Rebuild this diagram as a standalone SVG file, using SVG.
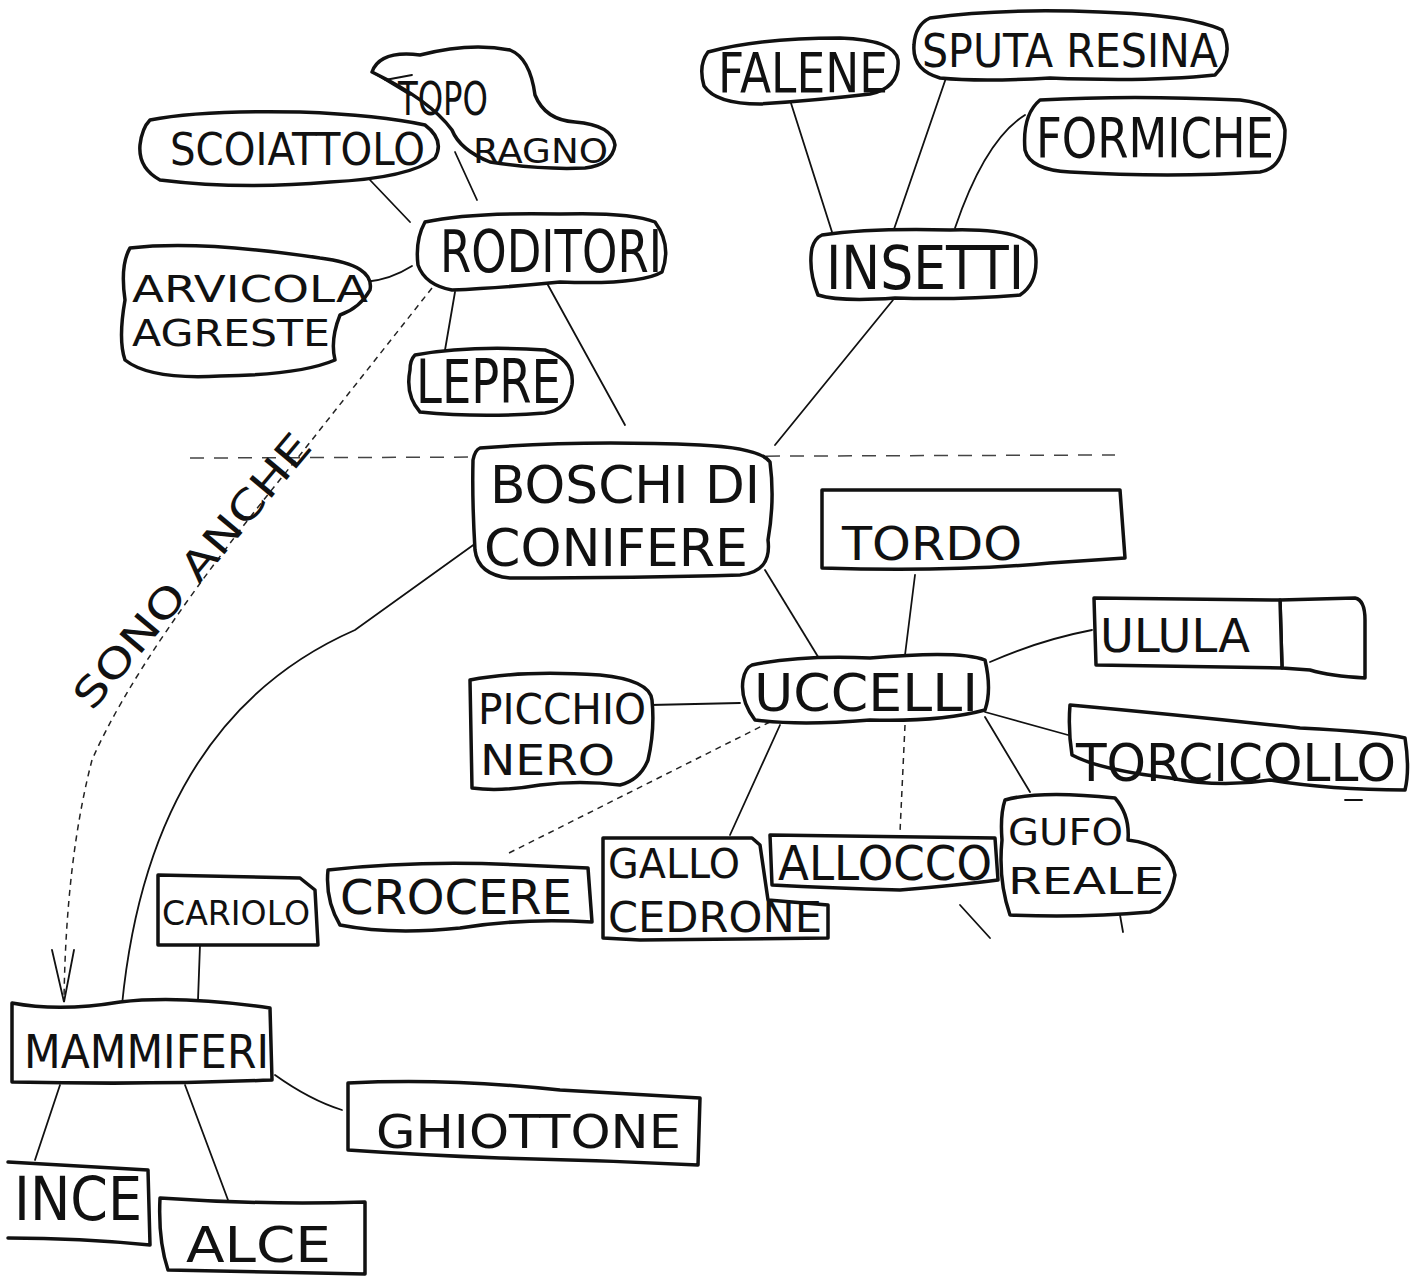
<svg xmlns="http://www.w3.org/2000/svg" width="1414" height="1284" viewBox="0 0 1414 1284">
<defs>
<style>
.n{fill:#fff;stroke:#111;stroke-width:3.5;stroke-linejoin:round;stroke-linecap:round}
.t{font-family:"DejaVu Sans","Liberation Sans",sans-serif;font-weight:normal;fill:#111}
.c{fill:none;stroke:#111;stroke-width:1.8;stroke-linecap:round}
.d{fill:none;stroke:#222;stroke-width:1.5;stroke-dasharray:6 5}
.s{fill:none;stroke:#444;stroke-width:1.5;stroke-dasharray:14 10}
</style>
</defs>
<rect width="1414" height="1284" fill="#fff"/>
<path class="s" d="M190 458 L1115 455"/>
<g id="connectors">
<path class="c" d="M370 180 L410 222"/>
<path class="c" d="M455 152 L477 200"/>
<path class="c" d="M365 282 Q390 280 412 266"/>
<path class="c" d="M455 292 L445 350"/>
<path class="c" d="M543 276 L625 425"/>
<path class="d" d="M432 288 L300 455 Q140 650 92 760 Q66 860 64 1000"/>
<path class="c" d="M52 950 L64 1002 L74 950"/>
<path class="c" d="M790 100 L832 232"/>
<path class="c" d="M946 78 L893 232"/>
<path class="c" d="M1025 115 Q985 140 955 228"/>
<path class="c" d="M893 300 L775 445"/>
<path class="c" d="M490 533 L355 630 Q150 720 122 1005"/>
<path class="c" d="M765 570 L820 660"/>
<path class="c" d="M915 575 L905 655"/>
<path class="c" d="M990 662 Q1040 640 1092 630"/>
<path class="c" d="M740 703 L650 705"/>
<path class="c" d="M985 712 L1068 735"/>
<path class="c" d="M985 717 L1030 792"/>
<path class="d" d="M905 725 L900 832"/>
<path class="c" d="M780 725 L730 835"/>
<path class="d" d="M770 722 L505 855"/>
<path class="c" d="M960 905 L990 938"/>
<path class="c" d="M1120 915 L1123 932"/>
<path class="c" d="M200 945 L198 1000"/>
<path class="c" d="M275 1075 Q310 1100 342 1110"/>
<path class="c" d="M60 1085 L35 1160"/>
<path class="c" d="M185 1085 L228 1200"/>
<path class="c" d="M1345 800 L1362 800"/>
</g>
<text class="t" font-size="40" transform="translate(92,712) rotate(-50)" textLength="345" lengthAdjust="spacingAndGlyphs">SONO ANCHE</text>
<g id="n-topo-ragno">
<path class="n" d="M372 72 Q380 50 420 55 Q470 42 510 50 Q530 58 535 95 Q545 120 575 122 Q612 125 615 145 Q612 165 585 168 Q540 170 490 162 Q460 150 452 130 Q430 100 372 72 Z"/>
<path class="c" d="M372 72 L410 95 M385 80 L412 75"/>
<text class="t" x="398" y="115" font-size="46" textLength="90" lengthAdjust="spacingAndGlyphs">TOPO</text>
<text class="t" x="473" y="163" font-size="34" textLength="135" lengthAdjust="spacingAndGlyphs">RAGNO</text>
</g>
<g id="n-scoiattolo">
<path class="n" d="M150 120 Q200 110 300 112 Q380 115 425 125 Q445 140 435 158 Q410 178 330 182 Q240 190 160 180 Q138 168 140 145 Q142 128 150 120 Z"/>
<text class="t" x="170" y="165" font-size="44" textLength="255" lengthAdjust="spacingAndGlyphs">SCOIATTOLO</text>
</g>
<g id="n-roditori">
<path class="n" d="M425 222 Q470 212 560 214 Q630 212 655 222 Q672 245 662 272 Q640 285 560 282 Q500 288 452 290 Q425 285 418 265 Q415 240 425 222 Z"/>
<text class="t" x="440" y="272" font-size="58" textLength="222" lengthAdjust="spacingAndGlyphs">RODITORI</text>
</g>
<g id="n-arvicola">
<path class="n" d="M130 248 Q200 240 320 258 Q375 265 370 290 Q360 308 340 315 Q330 340 335 360 Q300 375 220 376 Q150 380 125 360 Q118 340 125 300 Q120 265 130 248 Z"/>
<text class="t" x="132" y="302" font-size="38" textLength="236" lengthAdjust="spacingAndGlyphs">ARVICOLA</text>
<text class="t" x="132" y="346" font-size="38" textLength="198" lengthAdjust="spacingAndGlyphs">AGRESTE</text>
</g>
<g id="n-lepre">
<path class="n" d="M415 355 Q470 345 545 350 Q575 360 572 385 Q568 410 545 413 Q480 418 420 412 Q405 395 410 370 Q410 360 415 355 Z"/>
<text class="t" x="416" y="403" font-size="60" textLength="145" lengthAdjust="spacingAndGlyphs">LEPRE</text>
</g>
<g id="n-falene">
<path class="n" d="M708 52 Q760 38 840 38 Q895 40 898 60 Q900 88 870 94 Q820 100 760 104 Q716 104 704 86 Q698 65 708 52 Z"/>
<text class="t" x="718" y="92" font-size="56" textLength="170" lengthAdjust="spacingAndGlyphs">FALENE</text>
</g>
<g id="n-sputa">
<path class="n" d="M930 18 Q1000 8 1100 12 Q1190 15 1222 30 Q1235 55 1215 75 Q1150 82 1050 78 Q980 82 940 78 Q912 70 914 45 Q915 25 930 18 Z"/>
<text class="t" x="922" y="67" font-size="46" textLength="296" lengthAdjust="spacingAndGlyphs">SPUTA RESINA</text>
</g>
<g id="n-formiche">
<path class="n" d="M1040 100 Q1130 95 1240 100 Q1282 105 1285 130 Q1285 168 1260 172 Q1170 178 1070 172 Q1030 170 1025 150 Q1022 115 1040 100 Z"/>
<text class="t" x="1036" y="157" font-size="56" textLength="238" lengthAdjust="spacingAndGlyphs">FORMICHE</text>
</g>
<g id="n-insetti">
<path class="n" d="M822 235 Q870 228 950 230 Q1025 228 1035 250 Q1040 282 1020 295 Q960 300 895 298 Q840 302 818 295 Q808 270 812 248 Q815 238 822 235 Z"/>
<text class="t" x="826" y="289" font-size="60" textLength="198" lengthAdjust="spacingAndGlyphs">INSETTI</text>
</g>
<g id="n-boschi">
<path class="n" d="M480 448 Q580 440 700 445 Q760 448 770 462 Q775 500 768 540 Q772 572 740 575 Q640 578 510 578 Q478 575 475 550 Q472 500 473 460 Q475 450 480 448 Z"/>
<text class="t" x="490" y="503" font-size="52" textLength="270" lengthAdjust="spacingAndGlyphs">BOSCHI DI</text>
<text class="t" x="484" y="566" font-size="52" textLength="264" lengthAdjust="spacingAndGlyphs">CONIFERE</text>
</g>
<g id="n-tordo">
<path class="n" d="M822 490 L1120 490 L1125 558 L1050 563 Q950 572 822 568 Z"/>
<text class="t" x="842" y="560" font-size="46" textLength="180" lengthAdjust="spacingAndGlyphs">TORDO</text>
</g>
<g id="n-ulula">
<path class="n" d="M1280 600 L1355 598 Q1365 600 1365 620 L1365 678 Q1330 676 1310 670 L1282 668 Z"/>
<path class="n" d="M1094 598 L1280 600 L1282 668 L1096 665 Z"/>
<text class="t" x="1100" y="652" font-size="46" textLength="150" lengthAdjust="spacingAndGlyphs">ULULA</text>
</g>
<g id="n-uccelli">
<path class="n" d="M752 665 Q800 655 870 658 Q960 650 985 660 Q992 690 985 710 Q940 722 870 720 Q800 726 755 720 Q740 700 743 680 Q745 668 752 665 Z"/>
<text class="t" x="754" y="711" font-size="52" textLength="224" lengthAdjust="spacingAndGlyphs">UCCELLI</text>
</g>
<g id="n-picchio">
<path class="n" d="M470 680 Q520 670 600 675 Q650 680 652 700 Q655 730 648 760 Q640 780 620 785 Q580 780 540 785 Q500 792 472 788 Z"/>
<text class="t" x="478" y="724" font-size="42" textLength="168" lengthAdjust="spacingAndGlyphs">PICCHIO</text>
<text class="t" x="480" y="775" font-size="42" textLength="135" lengthAdjust="spacingAndGlyphs">NERO</text>
</g>
<g id="n-torcicollo">
<path class="n" d="M1070 705 Q1180 715 1300 728 Q1380 732 1405 738 Q1410 770 1405 790 Q1330 790 1270 780 Q1220 788 1170 778 Q1100 770 1072 755 Q1068 730 1070 705 Z"/>
<text class="t" x="1076" y="781" font-size="52" textLength="320" lengthAdjust="spacingAndGlyphs">TORCICOLLO</text>
</g>
<g id="n-gufo">
<path class="n" d="M1005 800 Q1040 790 1115 798 Q1130 815 1128 840 Q1170 845 1175 875 Q1170 905 1150 912 Q1080 918 1010 915 Q998 880 1002 840 Q1000 815 1005 800 Z"/>
<text class="t" x="1008" y="845" font-size="38" textLength="115" lengthAdjust="spacingAndGlyphs">GUFO</text>
<text class="t" x="1008" y="894" font-size="38" textLength="156" lengthAdjust="spacingAndGlyphs">REALE</text>
</g>
<g id="n-allocco">
<path class="n" d="M770 835 L995 838 L998 880 Q960 885 900 890 Q830 888 772 885 Z"/>
<text class="t" x="778" y="880" font-size="48" textLength="214" lengthAdjust="spacingAndGlyphs">ALLOCCO</text>
</g>
<g id="n-gallo">
<path class="n" d="M603 838 L752 838 L760 845 L768 900 L828 905 L828 938 L640 940 L603 938 Z"/>
<text class="t" x="608" y="878" font-size="40" textLength="132" lengthAdjust="spacingAndGlyphs">GALLO</text>
<text class="t" x="608" y="932" font-size="42" textLength="214" lengthAdjust="spacingAndGlyphs">CEDRONE</text>
</g>
<g id="n-crocere">
<path class="n" d="M328 870 Q420 860 520 865 L588 868 L592 922 Q520 918 460 928 Q390 935 340 925 Q325 900 328 870 Z"/>
<text class="t" x="340" y="914" font-size="48" textLength="232" lengthAdjust="spacingAndGlyphs">CROCERE</text>
</g>
<g id="n-cariolo">
<path class="n" d="M158 875 L300 878 L315 890 L318 945 L158 945 Z"/>
<text class="t" x="162" y="925" font-size="34" textLength="148" lengthAdjust="spacingAndGlyphs">CARIOLO</text>
</g>
<g id="n-mammiferi">
<path class="n" d="M12 1003 Q60 1012 120 1002 Q180 995 270 1008 L272 1080 Q150 1085 12 1082 Z"/>
<text class="t" x="24" y="1068" font-size="46" textLength="245" lengthAdjust="spacingAndGlyphs">MAMMIFERI</text>
</g>
<g id="n-ghiottone">
<path class="n" d="M348 1083 Q450 1078 560 1090 L700 1098 L698 1165 Q600 1160 500 1158 Q420 1155 348 1150 Z"/>
<text class="t" x="376" y="1148" font-size="46" textLength="305" lengthAdjust="spacingAndGlyphs">GHIOTTONE</text>
</g>
<g id="n-ince">
<path class="n" d="M8 1162 L148 1170 L150 1245 Q80 1238 8 1238"/>
<text class="t" x="14" y="1220" font-size="60" textLength="128" lengthAdjust="spacingAndGlyphs">INCE</text>
</g>
<g id="n-alce">
<path class="n" d="M160 1198 Q260 1205 365 1202 L365 1274 Q270 1272 168 1270 Q158 1240 160 1198 Z"/>
<text class="t" x="186" y="1262" font-size="50" textLength="145" lengthAdjust="spacingAndGlyphs">ALCE</text>
</g>
</svg>
